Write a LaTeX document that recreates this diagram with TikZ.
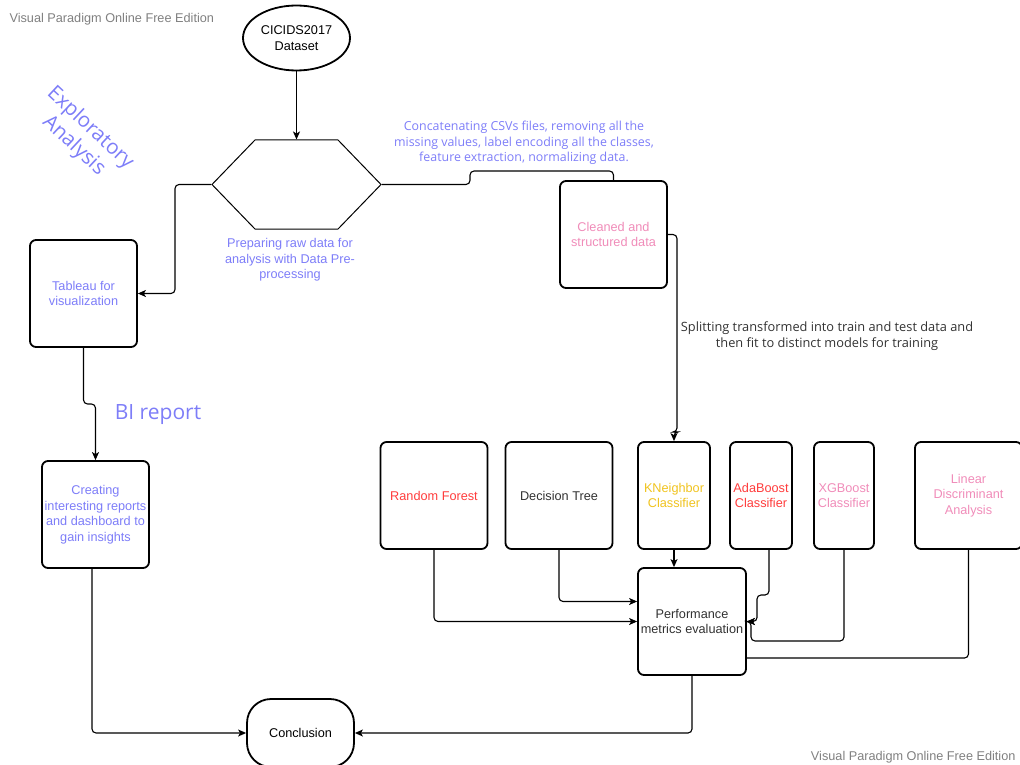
\documentclass[tikz,border=0pt]{standalone}
\usepackage{fontspec}
\setmainfont{Liberation Sans}
\newfontfamily\osans{Open Sans}
\usetikzlibrary{arrows.meta,shapes.geometric,shapes.symbols}
\definecolor{bluetxt}{RGB}{125,125,248}
\definecolor{pinktxt}{RGB}{240,140,185}
\definecolor{redtxt}{RGB}{255,60,60}
\definecolor{goldtxt}{RGB}{240,195,30}
\definecolor{darktxt}{RGB}{50,50,50}
\definecolor{marktxt}{RGB}{128,128,128}

\begin{document}
\begin{tikzpicture}[x=1pt,y=-1pt,
    font=\fontsize{12.7}{15.5}\selectfont,
    block/.style={draw=black,line width=1.8pt,rounded corners=6pt,align=center,minimum height=107pt,inner sep=1pt},
    conn/.style={line width=1.1pt,rounded corners=4pt},
    arr/.style={conn,-{Stealth[length=8pt,width=7pt,inset=2pt]}},
    note/.style={align=center,font=\osans\fontsize{12.4}{15.5}\selectfont}]
\useasboundingbox (0,0) rectangle (1020,765);

% watermarks
\node[text=marktxt,anchor=west] (markA) at (6,19) {Visual Paradigm Online Free Edition};
\node[text=marktxt,anchor=east] (markB) at (1019,757) {Visual Paradigm Online Free Edition};

% input and pre-processing
\node[draw,ellipse,line width=1.8pt,minimum width=107pt,minimum height=65pt,inner sep=0pt,align=center] (data) at (296.5,38) {CICIDS2017\\Dataset};
\node[draw,signal,signal to=west and east,signal pointer angle=92,line width=1pt,minimum width=169pt,minimum height=89pt] (prep) at (296.5,184.5) {};
\node[text=bluetxt,align=center] (prepnote) at (290,260) {Preparing raw data for\\analysis with Data Pre-\\processing};
\node[block,minimum width=107pt,text=pinktxt] (clean) at (613.5,234.5) {Cleaned and\\structured data};
\node[note,text=bluetxt] (cleannote) at (524,143) {Concatenating CSVs files, removing all the\\missing values, label encoding all the classes,\\feature extraction, normalizing data.};

% exploratory branch
\node[note,text=bluetxt,rotate=-43,font=\osans\fontsize{20.5}{24}\selectfont] (explo) at (82,137) {Exploratory\\Analysis};
\node[block,minimum width=107pt,text=bluetxt] (tab) at (83.5,293.5) {Tableau for\\visualization};
\node[note,text=bluetxt,font=\osans\fontsize{21}{24}\selectfont] (bi) at (158,415) {BI report};
\node[block,minimum width=107pt,text=bluetxt] (create) at (95.5,514.5) {Creating\\interesting reports\\and dashboard to\\gain insights};

% models
\node[note,text=darktxt,font=\osans\fontsize{12.8}{16}\selectfont] (splitnote) at (827,336) {Splitting transformed into train and test data and\\then fit to distinct models for training};
\node[block,minimum width=107pt,text=redtxt] (rf) at (434,495.5) {Random Forest};
\node[block,minimum width=107pt,text=darktxt] (dt) at (559,495.5) {Decision Tree};
\node[block,minimum width=72pt,text=goldtxt] (kn) at (674,495.5) {KNeighbor\\Classifier};
\node[block,minimum width=62pt,text=redtxt] (ada) at (761,495.5) {AdaBoost\\Classifier};
\node[block,minimum width=60pt,text=pinktxt] (xg) at (844,495.5) {XGBoost\\Classifier};
\node[block,minimum width=107pt,text=pinktxt] (lda) at (968.5,495.5) {Linear\\Discriminant\\Analysis};
\node[block,minimum width=108pt,text=darktxt] (perf) at (692,621.5) {Performance\\metrics evaluation};
\node[draw,line width=1.8pt,rounded corners=24pt,minimum width=107pt,minimum height=68pt] (concl) at (300.5,733) {Conclusion};

% connectors
\draw[arr] (data) -- (prep.north);
\draw[conn] (prep.east) -- (470,184.5) -- (470,171) -| (clean.north);
\draw[arr] (prep.west) -- (175,184.5) |- (tab.east);
\draw[arr] (tab.south) |- (95.5,404) -- (create.north);
\draw[arr] (create.south -| 92,0) |- (concl.west);
\draw[arr] (clean.east) -| (677,432) -| (kn.north);
\draw[arr] (rf.south) |- (perf.west);
\draw[arr] (dt.south) |- ([yshift=20pt]perf.west);
\draw[arr] (kn.south) -- (kn.south |- perf.north);
\draw[arr] ([xshift=8pt]ada.south) |- (757,595) |- (perf.east);
\draw[arr] (xg.south) |- (751,641) |- (perf.east);
\draw[conn] (lda.south) |- ([yshift=-36.5pt]perf.east);
\draw[arr] (perf.south) |- (concl.east);
\end{tikzpicture}
\end{document}
